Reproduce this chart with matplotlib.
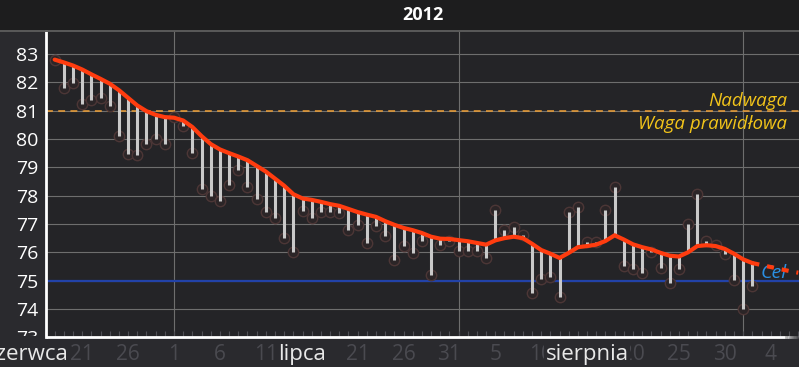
import numpy as np
import pandas as pd
import matplotlib
matplotlib.use("Agg")
import matplotlib.pyplot as plt
import matplotlib.dates as mdates
from matplotlib.transforms import Bbox, TransformedBbox
from matplotlib.lines import Line2D
from matplotlib.patches import Rectangle

plt.rcParams['font.family'] = ['Open Sans', 'DejaVu Sans']

# ---------------- data ----------------
title = "2012"
start_date = "2012-06-18"
weights = [82.80, 81.79, 81.98, 81.25, 81.37, 81.45, 81.16, 80.12, 79.48, 79.44,
           79.83, 80.01, 79.83, 80.78, 80.45, 79.50, 78.24, 77.98, 77.82, 78.39,
           78.92, 78.31, 77.89, 77.41, 77.21, 76.50, 76.00, 77.47, 77.21, 77.42,
           77.42, 77.39, 76.80, 76.95, 76.33, 76.94, 76.59, 75.74, 76.22, 75.97,
           76.39, 75.21, 76.27, 76.39, 76.03, 76.03, 76.03, 75.80, 77.50, 76.80,
           76.89, 76.62, 74.58, 75.06, 75.13, 74.42, 77.43, 77.60, 76.35, 76.35,
           77.50, 78.31, 75.50, 75.42, 75.27, 76.00, 75.45, 74.92, 75.42, 77.01,
           78.06, 76.39, 76.27, 75.94, 75.03, 74.00, 74.82]
trend = [82.80, 82.70, 82.59, 82.45, 82.28, 82.12, 81.95, 81.72, 81.45, 81.18,
         80.98, 80.85, 80.77, 80.75, 80.65, 80.42, 80.10, 79.82, 79.63, 79.50,
         79.38, 79.25, 79.05, 78.85, 78.60, 78.35, 78.05, 77.90, 77.85, 77.78,
         77.70, 77.64, 77.53, 77.42, 77.33, 77.25, 77.10, 76.97, 76.86, 76.78,
         76.68, 76.55, 76.48, 76.47, 76.43, 76.39, 76.33, 76.27, 76.42, 76.50,
         76.55, 76.50, 76.30, 76.08, 75.95, 75.80, 75.98, 76.18, 76.22, 76.27,
         76.40, 76.60, 76.45, 76.28, 76.18, 76.10, 75.98, 75.88, 75.85, 76.00,
         76.22, 76.25, 76.22, 76.12, 75.95, 75.75, 75.62]
projection_start = "2012-09-02"
projection = [75.62, 75.55, 75.48, 75.41, 75.34, 75.28]
goal_weight = 75.0
overweight_limit = 81.0
goal_label = "Cel"
over_label = "Nadwaga"
normal_label = "Waga prawidłowa"
y_ticks = [73, 74, 75, 76, 77, 78, 79, 80, 81, 82, 83]
day_tick_start = "2012-06-16"
day_tick_end = "2012-09-05"
month_labels = ["czerwca", "lipca", "sierpnia"]
month_label_dates = ["2012-06-15", "2012-07-15", "2012-08-15"]
month_grid_dates = ["2012-07-01", "2012-08-01", "2012-09-01"]
x_start = "2012-06-17 00:00"
x_end = "2012-09-07 02:00"

# ---------------- figure ----------------
W, H = 799, 367
bg = "#2a2a2e"
fig = plt.figure(figsize=(W / 100, H / 100), dpi=100, facecolor=bg)

# title band
fig.patches.append(Rectangle((0, 1 - 30 / H), 1, 30 / H, transform=fig.transFigure,
                             facecolor="#1d1d1e", edgecolor="none", zorder=0))
fig.lines.append(Line2D([0, 1], [1 - 30.5 / H] * 2, transform=fig.transFigure,
                        color="#5a5a5a", lw=1.4))
fig.text(422.5 / W, 1 - 15 / H, title, ha="center", va="center", color="white",
         fontsize=13, fontweight="bold")

left_px, bottom_px, top_px = 45.5, 337.3, 31.0
ax = fig.add_axes([left_px / W, (H - bottom_px) / H, 1 - left_px / W,
                   (bottom_px - top_px) / H])
ax.set_facecolor("#242427")

dates = pd.date_range(start_date, periods=len(weights), freq="D")
pdates = pd.date_range(projection_start, periods=len(projection), freq="D")

# x ticks (set before limits: set_xticks may widen the view)
day_ticks = pd.date_range(day_tick_start, day_tick_end, freq="5D")
ax.set_xticks(day_ticks)
ax.set_xticklabels([str(d.day) for d in day_ticks])
ax.xaxis.set_minor_locator(mdates.DayLocator())

ax.set_yticks(y_ticks)
ax.set_yticklabels([str(v) for v in y_ticks])

ax.set_xlim(pd.Timestamp(x_start), pd.Timestamp(x_end))
ax.set_ylim(73, 83.81)

# grid
ax.yaxis.grid(True, color="#6e6e6e", lw=0.8)
for d in month_grid_dates:
    ax.axvline(pd.Timestamp(d), color="#6e6e6e", lw=0.8, zorder=1)

# reference lines
ax.axhline(goal_weight, color="#2242a8", lw=1.6, zorder=1.6)
ax.axhline(overweight_limit, color="#f0a035", lw=1.1, dashes=(4.5, 3.5), zorder=1.6)

# markers, bars, trend
ax.plot(dates, weights, "o", ms=7.5, mfc="#2b2527", mec="#4c3636", mew=1.0, zorder=2)
ax.vlines(dates, trend, weights, color="#c9c9c9", lw=2.2, zorder=3)
ax.plot(dates, trend, color="#ff3c0f", lw=3.0, solid_capstyle="round",
        solid_joinstyle="round", zorder=5)
ax.plot(pdates, projection, color="#ff3c0f", lw=3.0, dashes=(1.7, 1.9), zorder=5)

# labels on reference lines
xr = (787 - left_px) / (W - left_px)
ax.annotate(over_label, xy=(xr, overweight_limit), xycoords=("axes fraction", "data"),
            xytext=(0, 3.6), textcoords="offset points", ha="right", va="baseline",
            color="#f2c41a", fontsize=13.5, fontstyle="italic", zorder=4)
ax.annotate(normal_label, xy=(xr, overweight_limit), xycoords=("axes fraction", "data"),
            xytext=(0, -13.2), textcoords="offset points", ha="right", va="baseline",
            color="#f2c41a", fontsize=13.5, fontstyle="italic", zorder=4)
ax.annotate(goal_label, xy=(xr, goal_weight), xycoords=("axes fraction", "data"),
            xytext=(0, 2.0), textcoords="offset points", ha="right", va="baseline",
            color="#2a8fe2", fontsize=14, fontstyle="italic", zorder=4)

ax.tick_params(axis="x", which="both", direction="in", length=4, width=0.8,
               color="#4f4f55", labelcolor="#4a4a50", labelsize=15, pad=5)
ax.tick_params(axis="y", which="both", length=0, labelcolor="white", labelsize=14, pad=5)

for lab, d in zip(month_labels, month_label_dates):
    ax.annotate(lab, xy=(pd.Timestamp(d), 0), xycoords=("data", "axes fraction"),
                xytext=(0, -5.0), textcoords="offset points", ha="center", va="top",
                color="#e8e8e8", fontsize=16, annotation_clip=False, zorder=6,
                bbox=dict(facecolor=bg, edgecolor="none", pad=1.0))

# spines
for s in ["top", "right", "bottom"]:
    ax.spines[s].set_visible(False)
ax.spines["left"].set_color("white")
ax.spines["left"].set_linewidth(2.0)

# bottom axis line, fading out at the right end
fade_start = (785 - left_px) / (W - left_px)
ax.plot([0, fade_start], [0, 0], transform=ax.transAxes, color="white", lw=2.0,
        solid_capstyle="butt", clip_on=False, zorder=7)
n_fade = 12
edges = np.linspace(fade_start, 1.0, n_fade + 1)
for i in range(n_fade):
    ax.plot(edges[i:i + 2], [0, 0], transform=ax.transAxes, color="white",
            alpha=1 - (i + 1) / (n_fade + 1), lw=2.0, solid_capstyle="butt",
            clip_on=False, zorder=7)

# clip the lowest y label at the axis bottom
clip = TransformedBbox(Bbox([[0, (H - 336) / H], [1, 1]]), fig.transFigure)
for t in ax.yaxis.get_major_ticks():
    t.label1.set_clip_on(True)
    t.label1.set_clip_box(clip)

fig.savefig("out.png", dpi=100, facecolor=fig.get_facecolor())
